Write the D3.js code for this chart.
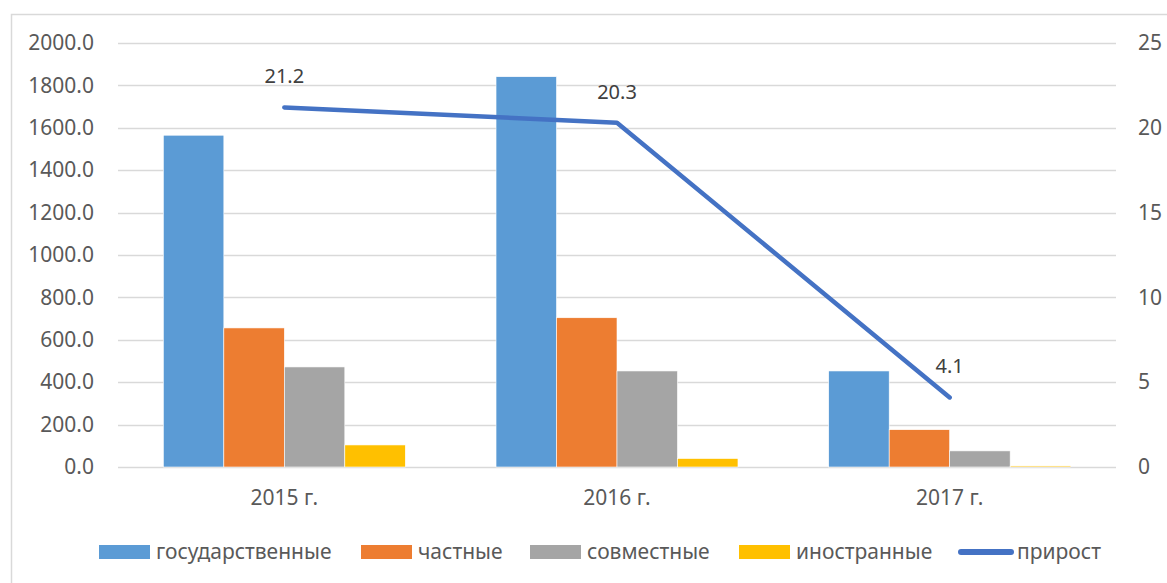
<!DOCTYPE html>
<html>
<head>
<meta charset="utf-8">
<script src="https://cdn.jsdelivr.net/npm/d3@7"></script>
<style>
  html, body { margin: 0; padding: 0; background: #fff; overflow: hidden; }
  svg { display: block; font-family: "Noto Sans", "Open Sans", sans-serif; }
</style>
</head>
<body>
<svg id="chart"></svg>
<script>
const years = ['2015 г.', '2016 г.', '2017 г.'];
const seriesNames = ['государственные', 'частные', 'совместные', 'иностранные'];
const seriesColors = ['#5b9bd5', '#ed7d31', '#a5a5a5', '#ffc000'];
const gosValues = [1565, 1841, 453];
const chastValues = [656, 704, 176];
const sovmValues = [472, 453, 76];
const inostrValues = [104, 40, 5];
const growthName = 'прирост';
const growthValues = [21.2, 20.3, 4.1];
const leftTicks = [0, 200, 400, 600, 800, 1000, 1200, 1400, 1600, 1800, 2000];
const rightTicks = [0, 5, 10, 15, 20, 25];

const W = 1167, H = 583;
const margin = { top: 43, right: 51, bottom: 116, left: 118 };
const width = W - margin.left - margin.right;
const height = H - margin.top - margin.bottom;

const svg = d3.select('#chart').attr('width', W).attr('height', H);

// chart frame (runs off the right and bottom edges)
svg.append('rect')
    .attr('x', 11.5).attr('y', 14.5)
    .attr('width', 1300).attr('height', 700)
    .attr('fill', 'none')
    .attr('stroke', '#d9d9d9')
    .attr('stroke-width', 1.5);

const g = svg.append('g').attr('transform', `translate(${margin.left},${margin.top})`);

const x0 = d3.scaleBand().domain(years).range([0, width]).paddingInner(0.2727).paddingOuter(0.13635);
const x1 = d3.scaleBand().domain(seriesNames).range([0, x0.bandwidth()]);
const yL = d3.scaleLinear().domain([0, 2000]).range([height, 0]);
const yR = d3.scaleLinear().domain([0, 25]).range([height, 0]);

// gridlines every 200 (= 2.5 on the right axis)
g.append('g')
    .selectAll('line')
    .data(leftTicks)
    .join('line')
    .attr('x1', 0).attr('x2', width)
    .attr('y1', d => Math.round(yL(d)) + 0.5)
    .attr('y2', d => Math.round(yL(d)) + 0.5)
    .attr('stroke', '#d9d9d9')
    .attr('stroke-width', 1.5);

// left axis
const leftAxis = g.append('g')
    .call(d3.axisLeft(yL).tickValues(leftTicks).tickSize(0).tickPadding(24).tickFormat(d3.format('.1f')));
leftAxis.select('.domain').remove();
leftAxis.selectAll('text')
    .attr('fill', '#595959')
    .style('font-size', '21px')
    .style('font-family', '"Noto Sans", sans-serif');

// right axis
const rightAxis = g.append('g')
    .attr('transform', `translate(${width},0)`)
    .call(d3.axisRight(yR).tickValues(rightTicks).tickSize(0).tickPadding(22));
rightAxis.select('.domain').remove();
rightAxis.selectAll('text')
    .attr('fill', '#595959')
    .style('font-size', '21px')
    .style('font-family', '"Noto Sans", sans-serif');

// bottom axis labels
const bottomAxis = g.append('g')
    .attr('transform', `translate(0,${height})`)
    .call(d3.axisBottom(x0).tickSize(0).tickPadding(23));
bottomAxis.select('.domain').remove();
bottomAxis.selectAll('text')
    .attr('fill', '#595959')
    .style('font-size', '21px')
    .style('font-family', '"Noto Sans", sans-serif');

// bars
const seriesData = [gosValues, chastValues, sovmValues, inostrValues];
years.forEach((year, i) => {
    const grp = g.append('g').attr('transform', `translate(${x0(year)},0)`);
    grp.selectAll('rect')
        .data(seriesNames.map((name, s) => ({ name, value: seriesData[s][i], color: seriesColors[s] })))
        .join('rect')
        .attr('x', d => x1(d.name))
        .attr('width', x1.bandwidth())
        .attr('y', d => yL(d.value))
        .attr('height', d => height - yL(d.value))
        .attr('fill', d => d.color)
        .attr('stroke', '#fff')
        .attr('stroke-width', 0.6);
});

// growth line
const lineData = years.map((y, i) => ({ year: y, value: growthValues[i] }));
const line = d3.line()
    .x(d => x0(d.year) + x0.bandwidth() / 2)
    .y(d => yR(d.value));

g.append('path')
    .datum(lineData)
    .attr('fill', 'none')
    .attr('stroke', '#4472c4')
    .attr('stroke-width', 4.5)
    .attr('stroke-linecap', 'round')
    .attr('stroke-linejoin', 'round')
    .attr('d', line);

g.selectAll('.growth-label')
    .data(lineData)
    .join('text')
    .attr('class', 'growth-label')
    .attr('x', d => x0(d.year) + x0.bandwidth() / 2)
    .attr('y', d => yR(d.value) - 24)
    .attr('text-anchor', 'middle')
    .attr('fill', '#404040')
    .style('font-size', '20px')
    .text(d => d.value.toFixed(1));

// legend
const legendItems = seriesNames.map((name, s) => ({ name, color: seriesColors[s], type: 'bar' }))
    .concat([{ name: growthName, color: '#4472c4', type: 'line' }]);
const legendX = [99, 361, 530, 739, 958];
const legendY = 552;
const legend = svg.append('g');
legendItems.forEach((item, i) => {
    const lg = legend.append('g').attr('transform', `translate(${legendX[i]},${legendY})`);
    if (item.type === 'bar') {
        lg.append('rect')
            .attr('x', 0).attr('y', -7)
            .attr('width', 51).attr('height', 14)
            .attr('fill', item.color);
    } else {
        lg.append('line')
            .attr('x1', 3).attr('x2', 53)
            .attr('y1', 0).attr('y2', 0)
            .attr('stroke', item.color)
            .attr('stroke-width', 6)
            .attr('stroke-linecap', 'round');
    }
    lg.append('text')
        .attr('x', item.type === 'bar' ? 57 : 59)
        .attr('y', 0)
        .attr('dy', '0.35em')
        .attr('fill', '#595959')
        .style('font-size', '21px')
        .text(item.name);
});
</script>
</body>
</html>
